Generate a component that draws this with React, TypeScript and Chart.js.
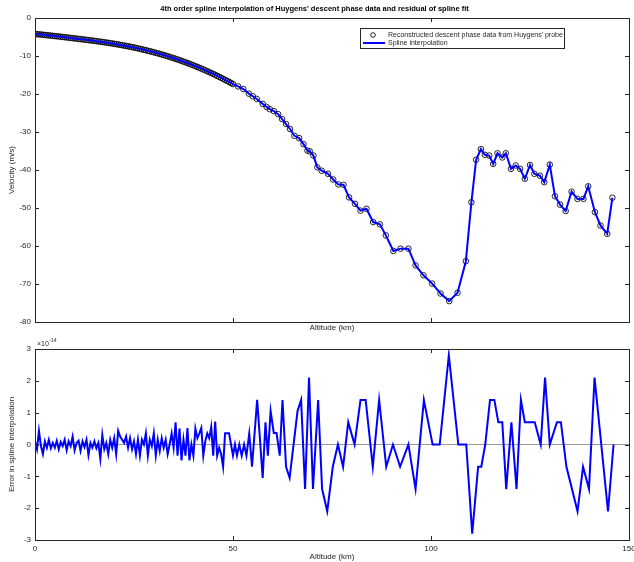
import React, { useEffect, useRef } from "react";
import { Chart, registerables } from "chart.js";

Chart.register(...registerables);

const FONT = "'Liberation Sans', Arial, Helvetica, sans-serif";
const TEXT = "#262626";

const TITLE = "4th order spline interpolation of Huygens' descent phase data and residual of spline fit";
const DATA_LABEL = "Reconstructed descent phase data from Huygens' probe";
const SPLINE_LABEL = "Spline interpolation";

// x-axis ticks (km) and y-axis ranges
const xTicks = [0, 50, 100, 150];
const velocityRange = [-80, 0];
const errorRange = [-3, 3];

// dense part of the descent (0 - 50 km)
const denseAltitude = [
  0, 0.5, 1, 1.5, 2, 2.5, 3, 3.5, 4, 4.5, 5, 5.5, 6, 6.5, 7, 7.5, 8, 8.5, 9, 9.5,
  10, 10.5, 11, 11.5, 12, 12.5, 13, 13.5, 14, 14.5, 15, 15.5, 16, 16.5, 17, 17.5, 18, 18.5, 19, 19.5,
  20, 20.5, 21, 21.5, 22, 22.5, 23, 23.5, 24, 24.5, 25, 25.5, 26, 26.5, 27, 27.5, 28, 28.5, 29, 29.5,
  30, 30.5, 31, 31.5, 32, 32.5, 33, 33.5, 34, 34.5, 35, 35.5, 36, 36.5, 37, 37.5, 38, 38.5, 39, 39.5,
  40, 40.5, 41, 41.5, 42, 42.5, 43, 43.5, 44, 44.5, 45, 45.5, 46, 46.5, 47, 47.5, 48, 48.5, 49, 49.5, 50,
];

const denseVelocity = [
  -4.2, -4.26, -4.31, -4.36, -4.42, -4.46, -4.53, -4.58, -4.64, -4.7, -4.76, -4.81, -4.87, -4.94, -5.0, -5.05, -5.12, -5.18, -5.24, -5.31,
  -5.37, -5.43, -5.5, -5.56, -5.62, -5.69, -5.75, -5.82, -5.88, -5.95, -6.02, -6.09, -6.16, -6.24, -6.31, -6.38, -6.46, -6.54, -6.62, -6.7,
  -6.79, -6.88, -6.97, -7.06, -7.16, -7.25, -7.35, -7.45, -7.55, -7.66, -7.77, -7.88, -8.0, -8.12, -8.24, -8.36, -8.49, -8.62, -8.75, -8.88,
  -9.02, -9.16, -9.3, -9.45, -9.6, -9.75, -9.91, -10.07, -10.23, -10.4, -10.57, -10.74, -10.92, -11.1, -11.28, -11.47, -11.66, -11.85, -12.05, -12.25,
  -12.46, -12.67, -12.88, -13.1, -13.32, -13.54, -13.77, -14.0, -14.24, -14.48, -14.72, -14.97, -15.22, -15.48, -15.74, -16.0, -16.27, -16.54, -16.82, -17.1, -17.38,
];

// sparse part of the descent (> 50 km)
const sparseAltitude = [
  51.3, 52.6, 54.0, 55.0, 56.0, 57.5, 58.5, 59.3, 60.3, 61.4, 62.4, 63.4, 64.4, 65.5, 66.7, 67.8, 68.8, 69.4, 70.3, 71.3,
  72.4, 74.0, 75.3, 76.6, 77.9, 79.3, 80.8, 82.2, 83.7, 85.4, 87.1, 88.6, 90.5, 92.3, 94.3, 96.1, 98.1, 100.3, 102.4, 104.6,
  106.7, 108.8, 110.2, 111.4, 112.6, 113.6, 114.7, 115.7, 116.8, 118.0, 118.9, 120.2, 121.4, 122.5, 123.7, 125.0, 126.1, 127.5, 128.6, 130.0,
  131.3, 132.6, 134.0, 135.5, 137.0, 138.5, 139.7, 141.4, 142.8, 144.5, 145.8,
];

const sparseVelocity = [
  -18.0, -18.7, -19.9, -20.6, -21.3, -22.6, -23.4, -24.0, -24.5, -25.3, -26.6, -27.9, -29.2, -31.0, -31.6, -33.2, -34.9, -35.1, -36.2, -39.3,
  -40.2, -41.0, -42.5, -43.8, -43.9, -47.2, -48.9, -50.7, -50.2, -53.7, -54.3, -57.2, -61.3, -60.7, -60.7, -65.1, -67.7, -69.9, -72.5, -74.5,
  -72.3, -64.0, -48.5, -37.3, -34.5, -36.0, -36.2, -38.4, -35.6, -36.7, -35.6, -39.7, -38.8, -39.7, -42.3, -38.7, -41.0, -41.5, -43.2, -38.6,
  -46.9, -49.1, -50.8, -45.7, -47.6, -47.6, -44.3, -51.1, -54.6, -56.8, -47.3,
];

// residual of the spline fit, in units of 1e-14
const denseResidual = [
  0.1, -0.15, 0.43, -0.05, -0.3, 0.1, -0.1, 0.15, -0.12, 0.05, -0.1, 0.12, -0.15, 0.08, -0.05, 0.15, -0.18, 0.1, -0.05, 0.25,
  -0.18, 0.05, 0.12, -0.2, 0.1, -0.08, 0.15, -0.33, 0.05, -0.1, 0.1, -0.12, 0.05, -0.45, 0.3, -0.15, 0.05, -0.3, 0.15, -0.1,
  0.2, -0.3, 0.43, 0.25, 0.15, 0.05, 0.25, -0.1, 0.2, -0.15, 0.1, -0.3, 0.15, -0.35, 0.15, 0.0, 0.35, -0.35, 0.15, -0.05,
  0.35, -0.35, 0.15, -0.2, 0.2, -0.1, 0.15, -0.3, 0.0, 0.35, -0.1, 0.7, -0.35, 0.5, -0.5, 0.15, -0.35, 0.52, -0.5, 0.0,
  -0.35, 0.5, 0.2, 0.35, 0.52, -0.35, 0.1, 0.35, 0.2, 0.55, -0.35, 0.72, -0.35, -0.1, -0.3, -0.7, 0.35, 0.35, 0.35, 0.0, -0.35,
];

const residualAltitude = [
  50.5, 51.0, 51.6, 52.2, 52.8, 53.4, 54.1, 54.8, 56.1, 57.5, 58.2, 58.8, 59.5, 60.3, 61.0, 61.8, 62.5, 63.4, 64.3, 66.3,
  67.2, 68.2, 69.2, 70.2, 71.5, 72.5, 73.8, 75.2, 76.5, 77.8, 79.1, 80.7, 82.2, 83.5, 85.3, 86.9, 88.7, 90.4, 92.2, 94.3,
  96.1, 98.2, 100.4, 102.2, 104.5, 106.9, 108.9, 110.4, 111.9, 112.7, 113.7, 114.9, 116.0, 117.0, 118.0, 119.0, 120.3, 121.6, 122.7, 123.7,
  126.2, 127.7, 128.8, 130.0, 131.8, 132.8, 134.2, 137.0, 138.4, 139.9, 141.3, 144.7, 146.1,
];

const sparseResidual = [
  0.0, -0.35, 0.0, -0.35, 0.0, -0.35, 0.34, -0.7, 1.4, -1.05, 0.7, -0.35, 1.05, 0.36, 0.36, -0.35, 1.4, -0.7, -1.05, 1.05,
  1.4, -1.4, 2.1, -1.4, 1.4, -1.4, -2.1, -0.7, 0.0, -0.7, 0.7, 0.0, 1.4, 1.4, -0.7, 1.4, -0.7, 0.0, -0.7, 0.0,
  -1.4, 1.4, 0.0, 0.0, 2.8, 0.0, 0.0, -2.8, -0.7, -0.7, 0.0, 1.4, 1.4, 0.7, 0.7, -1.4, 0.7, -1.4, 1.4, 0.7,
  0.7, 0.0, 2.1, 0.0, 0.7, 0.7, -0.7, -2.1, -0.7, -1.4, 2.1, -2.1, 0.0,
];

const toPoints = (xs: number[], ys: number[]) => xs.map((x, i) => ({ x, y: ys[i] }));

const framePlugin = {
  id: "matlabFrame",
  afterDatasetsDraw(chart: any) {
    const { ctx, chartArea: a, scales } = chart;
    const L = 4;
    ctx.save();
    ctx.strokeStyle = TEXT;
    ctx.lineWidth = 1;
    ctx.beginPath();
    for (const t of scales.x.ticks) {
      const px = Math.round(scales.x.getPixelForValue(t.value)) + 0.5;
      ctx.moveTo(px, a.bottom);
      ctx.lineTo(px, a.bottom - L);
      ctx.moveTo(px, a.top);
      ctx.lineTo(px, a.top + L);
    }
    for (const t of scales.y.ticks) {
      const py = Math.round(scales.y.getPixelForValue(t.value)) + 0.5;
      ctx.moveTo(a.left, py);
      ctx.lineTo(a.left + L, py);
      ctx.moveTo(a.right, py);
      ctx.lineTo(a.right - L, py);
    }
    ctx.stroke();
    ctx.strokeRect(
      Math.round(a.left) + 0.5,
      Math.round(a.top) + 0.5,
      Math.round(a.right - a.left),
      Math.round(a.bottom - a.top)
    );
    ctx.restore();
  },
};

const boxLegendPlugin = {
  id: "boxLegend",
  afterDraw(chart: any, _args: any, opts: any) {
    if (!opts || !opts.show) return;
    const { ctx } = chart;
    const ds = chart.data.datasets;
    const { left, top, width, height } = opts;
    ctx.save();
    ctx.fillStyle = "#ffffff";
    ctx.fillRect(left, top, width, height);
    ctx.strokeStyle = TEXT;
    ctx.lineWidth = 1;
    ctx.strokeRect(left + 0.5, top + 0.5, width, height);
    ctx.font = `7px ${FONT}`;
    ctx.textBaseline = "middle";
    const row1 = top + 7;
    const row2 = top + 15;
    ctx.beginPath();
    ctx.arc(left + 13, row1, 2.3, 0, Math.PI * 2);
    ctx.strokeStyle = ds[0].borderColor;
    ctx.lineWidth = 1;
    ctx.stroke();
    ctx.beginPath();
    ctx.moveTo(left + 3, row2);
    ctx.lineTo(left + 25, row2);
    ctx.strokeStyle = ds[1].borderColor;
    ctx.lineWidth = 2;
    ctx.stroke();
    ctx.fillStyle = TEXT;
    ctx.fillText(ds[0].label, left + 28, row1);
    ctx.fillText(ds[1].label, left + 28, row2);
    ctx.restore();
  },
};

const zeroLinePlugin = {
  id: "zeroLine",
  beforeDatasetsDraw(chart: any, _args: any, opts: any) {
    if (!opts || !opts.show) return;
    const { ctx, chartArea: a, scales } = chart;
    const py = scales.y.getPixelForValue(0);
    ctx.save();
    ctx.strokeStyle = "#9a9a9a";
    ctx.lineWidth = 1.2;
    ctx.beginPath();
    ctx.moveTo(a.left, py);
    ctx.lineTo(a.right, py);
    ctx.stroke();
    ctx.restore();
  },
};

const exponentPlugin = {
  id: "exponentLabel",
  afterDraw(chart: any, _args: any, opts: any) {
    if (!opts || !opts.show) return;
    const { ctx, chartArea: a } = chart;
    ctx.save();
    ctx.fillStyle = TEXT;
    ctx.textBaseline = "alphabetic";
    ctx.font = `7px ${FONT}`;
    const base = "\u00d710";
    ctx.fillText(base, a.left + 2, a.top - 3);
    const w = ctx.measureText(base).width;
    ctx.font = `5px ${FONT}`;
    ctx.fillText(opts.exponent, a.left + 2 + w + 0.5, a.top - 7);
    ctx.restore();
  },
};

const tickFont = { size: 8, family: FONT };

const noSidePadding = (s: any) => {
  s.paddingLeft = 0;
  s.paddingRight = 0;
};

export default function App() {
  const topRef = useRef<HTMLCanvasElement | null>(null);
  const botRef = useRef<HTMLCanvasElement | null>(null);

  useEffect(() => {
    const velPoints = [
      ...toPoints(denseAltitude, denseVelocity),
      ...toPoints(sparseAltitude, sparseVelocity),
    ];
    const resPoints = [
      ...toPoints(denseAltitude, denseResidual),
      ...toPoints(residualAltitude, sparseResidual),
    ];

    const top = new Chart(topRef.current as HTMLCanvasElement, {
      type: "scatter",
      data: {
        datasets: [
          {
            label: DATA_LABEL,
            data: velPoints,
            showLine: false,
            pointStyle: "circle",
            pointRadius: 2.8,
            borderColor: "rgba(0,0,0,0.85)",
            backgroundColor: "rgba(0,0,0,0)",
            borderWidth: 1,
            order: 1,
          } as any,
          {
            label: SPLINE_LABEL,
            data: velPoints,
            showLine: true,
            borderColor: "#0000ff",
            backgroundColor: "#0000ff",
            borderWidth: 2,
            pointRadius: 0,
            tension: 0,
            order: 0,
          } as any,
        ],
      },
      options: {
        responsive: false,
        animation: false,
        events: [],
        layout: { padding: { top: 0, right: 5, left: 0, bottom: 0 } },
        plugins: {
          legend: { display: false },
          tooltip: { enabled: false },
          title: {
            display: true,
            text: TITLE,
            color: "#000",
            font: { size: 7.5, weight: "bold", family: FONT },
            padding: { top: 4, bottom: 5 },
          },
          boxLegend: { show: true, left: 360, top: 28, width: 204, height: 20 },
        } as any,
        scales: {
          x: {
            type: "linear",
            min: xTicks[0],
            max: xTicks[xTicks.length - 1],
            afterBuildTicks: (s: any) => {
              s.ticks = xTicks.map((v) => ({ value: v }));
            },
            ticks: { display: false },
            grid: { display: false, drawTicks: false },
            border: { display: false },
            title: {
              display: true,
              text: "Altitude (km)",
              color: TEXT,
              font: tickFont,
              padding: { top: 0, bottom: 1 },
            },
            afterFit: (s: any) => {
              s.height = 12;
              noSidePadding(s);
            },
          },
          y: {
            min: velocityRange[0],
            max: velocityRange[1],
            ticks: { stepSize: 10, color: TEXT, font: tickFont, padding: 4 },
            grid: { display: false, drawTicks: false },
            border: { display: false },
            title: {
              display: true,
              text: "Velocity (m/s)",
              color: TEXT,
              font: tickFont,
              padding: { top: 7, bottom: 0 },
            },
            afterFit: (s: any) => {
              s.width = 35;
            },
          },
        },
      } as any,
      plugins: [framePlugin, boxLegendPlugin],
    });

    const bot = new Chart(botRef.current as HTMLCanvasElement, {
      type: "scatter",
      data: {
        datasets: [
          {
            label: "Residual",
            data: resPoints,
            showLine: true,
            borderColor: "#0000ff",
            backgroundColor: "#0000ff",
            borderWidth: 2,
            pointRadius: 0,
            tension: 0,
          } as any,
        ],
      },
      options: {
        responsive: false,
        animation: false,
        events: [],
        layout: { padding: { top: 15, right: 5, left: 0, bottom: 0 } },
        plugins: {
          legend: { display: false },
          tooltip: { enabled: false },
          title: { display: false },
          zeroLine: { show: true },
          exponentLabel: { show: true, exponent: "-14" },
        } as any,
        scales: {
          x: {
            type: "linear",
            min: xTicks[0],
            max: xTicks[xTicks.length - 1],
            afterBuildTicks: (s: any) => {
              s.ticks = xTicks.map((v) => ({ value: v }));
            },
            ticks: { color: TEXT, font: tickFont, padding: 4, maxRotation: 0 },
            grid: { display: false, drawTicks: false },
            border: { display: false },
            title: {
              display: true,
              text: "Altitude (km)",
              color: TEXT,
              font: tickFont,
              padding: { top: 0, bottom: 0 },
            },
            afterFit: (s: any) => {
              s.height = 22;
              noSidePadding(s);
            },
          },
          y: {
            min: errorRange[0],
            max: errorRange[1],
            ticks: { stepSize: 1, color: TEXT, font: tickFont, padding: 4 },
            grid: { display: false, drawTicks: false },
            border: { display: false },
            title: {
              display: true,
              text: "Error in spline interpolation",
              color: TEXT,
              font: tickFont,
              padding: { top: 7, bottom: 0 },
            },
            afterFit: (s: any) => {
              s.width = 35;
            },
          },
        },
      } as any,
      plugins: [zeroLinePlugin, framePlugin, exponentPlugin],
    });

    return () => {
      top.destroy();
      bot.destroy();
    };
  }, []);

  return (
    <div
      style={{
        position: "fixed",
        left: 0,
        top: 0,
        width: 634,
        height: 562,
        background: "#ffffff",
        overflow: "hidden",
      }}
    >
      <canvas
        ref={topRef}
        width={634}
        height={334}
        style={{ position: "absolute", left: 0, top: 0, width: 634, height: 334 }}
      />
      <canvas
        ref={botRef}
        width={634}
        height={228}
        style={{ position: "absolute", left: 0, top: 334, width: 634, height: 228 }}
      />
    </div>
  );
}
